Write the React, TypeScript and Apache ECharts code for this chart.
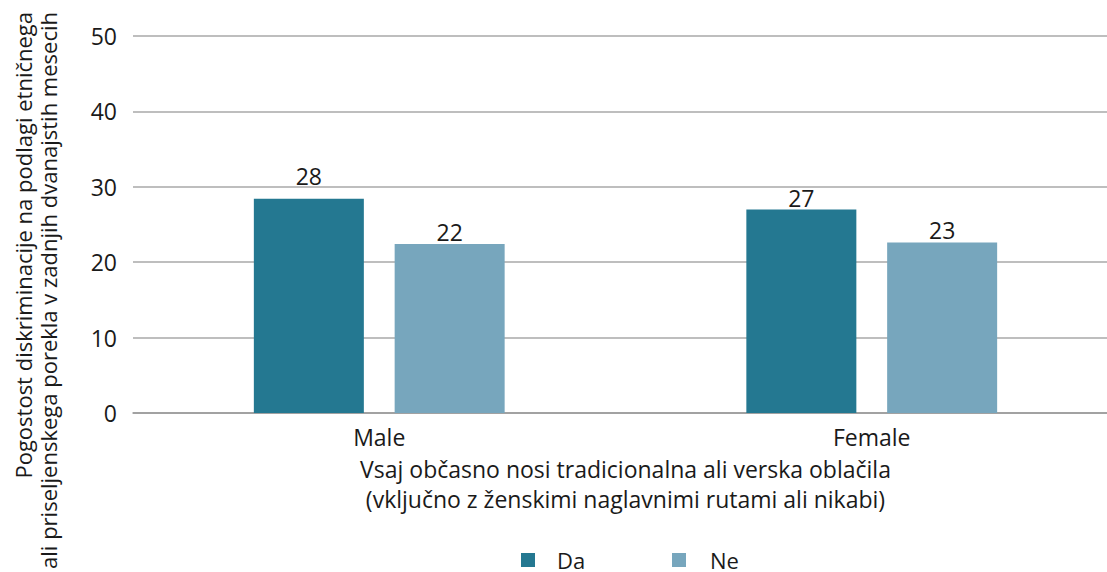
import React, { useEffect, useRef } from "react";
import * as echarts from "echarts";

const categories = ["Male", "Female"];
const daValues = [28.4, 27.0];
const neValues = [22.4, 22.6];
const seriesNames = ["Da", "Ne"];
const yTicks = [0, 10, 20, 30, 40, 50];

const FONT = "'Open Sans', 'Noto Sans', sans-serif";
const TEXT = "#1a1a1a";
const FS = 23;

export default function App() {
  const ref = useRef<HTMLDivElement>(null);
  useEffect(() => {
    document.body.style.margin = "0";
    document.body.style.overflow = "hidden";
    const chart = echarts.init(ref.current!, null, { renderer: "svg" });
    const label = {
      show: true,
      position: "top",
      color: TEXT,
      fontSize: FS,
      fontFamily: FONT,
      formatter: (p: any) => String(Math.round(p.value)),
      distance: 1,
    };
    const withDist = (vals: number[], dists: number[]) =>
      vals.map((v, i) => ({ value: v, label: { distance: dists[i] } }));
    const legendText = (padLeft: number) => ({
      color: TEXT,
      fontSize: 22,
      fontFamily: FONT,
      padding: [0, 0, 0, padLeft],
    });
    chart.setOption({
      animation: false,
      textStyle: { fontFamily: FONT },
      grid: { left: 133, top: 36, width: 985, bottom: 159, containLabel: false },
      xAxis: {
        type: "category",
        data: categories,
        axisLine: { lineStyle: { color: "#999", width: 1.5 } },
        axisTick: { show: false },
        axisLabel: { color: TEXT, fontSize: FS, fontFamily: FONT, margin: 12 },
        name: "Vsaj občasno nosi tradicionalna ali verska oblačila\n(vključno z ženskimi naglavnimi rutami ali nikabi)",
        nameLocation: "middle",
        nameGap: 41,
        nameTextStyle: { color: TEXT, fontSize: FS, fontFamily: FONT, lineHeight: 30, verticalAlign: "top" },
      },
      yAxis: {
        type: "value",
        min: yTicks[0],
        max: yTicks[yTicks.length - 1],
        interval: 10,
        axisLine: { show: false },
        axisTick: { show: false },
        axisLabel: { color: TEXT, fontSize: FS, fontFamily: FONT, margin: 16 },
        splitLine: { lineStyle: { color: "#a8a8a8", width: 1.5 } },
      },
      legend: [
        {
          data: [seriesNames[0]],
          left: 521,
          top: 549,
          padding: 0,
          icon: "rect",
          itemWidth: 14,
          itemHeight: 14,
          textStyle: legendText(17),
        },
        {
          data: [seriesNames[1]],
          left: 672,
          top: 549,
          padding: 0,
          icon: "rect",
          itemWidth: 14,
          itemHeight: 14,
          textStyle: legendText(19),
        },
      ],
      graphic: [
        {
          type: "text",
          x: 35,
          y: 12,
          rotation: Math.PI / 2,
          style: {
            text: "Pogostost diskriminacije na podlagi etničnega\nali priseljenskega porekla v zadnjih dvanajstih mesecih",
            align: "right",
            verticalAlign: "middle",
            fontSize: 22,
            lineHeight: 25,
            fontFamily: FONT,
            fill: TEXT,
          },
        },
      ],
      series: [
        {
          name: seriesNames[0],
          type: "bar",
          data: withDist(daValues, [11, 0]),
          barWidth: 110,
          barGap: "28%",
          itemStyle: { color: "#247891" },
          label,
        },
        {
          name: seriesNames[1],
          type: "bar",
          data: withDist(neValues, [1, 1]),
          barWidth: 110,
          itemStyle: { color: "#77a6bd" },
          label,
        },
      ],
    });
    return () => chart.dispose();
  }, []);
  return <div ref={ref} style={{ width: 1130, height: 572 }} />;
}
